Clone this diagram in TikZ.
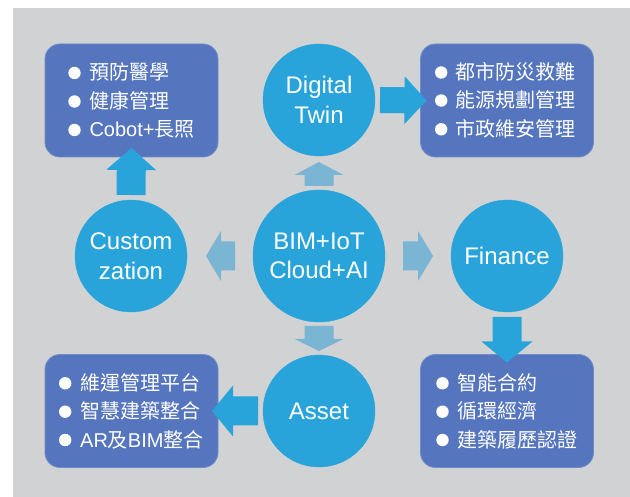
\documentclass[tikz,border=0pt]{standalone}
\usepackage{fontspec}
\setmainfont{Liberation Sans}
\newfontfamily\cjk{Noto Sans CJK TC}
\usetikzlibrary{calc}
\definecolor{bggray}{HTML}{D1D2D4}
\definecolor{circblue}{HTML}{29A4DB}
\definecolor{boxblue}{HTML}{5576BE}
\definecolor{boxedge}{HTML}{6F8CCB}
\definecolor{lightarrow}{HTML}{7AB5D3}
% block arrow: #1 style, #2 tail, #3 tip, #4 half shaft, #5 half head, #6 head length
\newcommand\blockarrow[6]{%
  \path #2 coordinate (baA) #3 coordinate (baB);
  \coordinate (baC) at ($(baB)!#6!(baA)$);
  \fill[#1] ($(baA)!#4!90:(baB)$) -- ($(baC)!#4!-90:(baA)$) -- ($(baC)!#5!-90:(baA)$)
    -- (baB) -- ($(baC)!#5!90:(baA)$) -- ($(baC)!#4!90:(baA)$) -- ($(baA)!#4!-90:(baB)$) -- cycle;}
% item line: #1 name, #2 box, #3 bullet dx, #4 text dx, #5 line centre dy, #6 text
\newcommand\itemline[6]{%
  \fill[bulletdot] ($(#2.west)+(#3,#5)$) circle (6.2pt);
  \node[itemtext] (#1) at ($(#2.west)+(#4,#5+7)$) {#6};}
\begin{document}
\begin{tikzpicture}[x=1pt,y=-1pt,
  hub/.style={circle, fill=circblue, draw=circblue, text=white, minimum size=#1,
    inner sep=0pt, outer sep=0pt, align=center, font=\fontsize{24}{29.5}\selectfont},
  infobox/.style={rounded corners=15pt, fill=boxblue, draw=boxedge, line width=0.8pt,
    minimum width=173pt, minimum height=113pt, inner sep=0pt, outer sep=0pt},
  itemtext/.style={anchor=base west, text=white, inner sep=0pt, font=\fontsize{20}{24}\selectfont},
  bulletdot/.style={fill=white},
  darkarrow/.style={fill=circblue},
  lightarr/.style={fill=lightarrow}]
\useasboundingbox (0,0) rectangle (630,497);
\fill[white] (0,0) rectangle (630,497);
\fill[bggray] (13,8) rectangle (630,497);

% boxes
\node[infobox] (tl) at (131.5,100.5) {};
\node[infobox] (tr) at (507,100.5) {};
\node[infobox] (bl) at (131.5,411) {};
\node[infobox] (br) at (507,411) {};

% circles
\node[hub=132pt] (core) at (319,256) {BIM+IoT\\Cloud+AI};
\node[hub=112pt] (dt) at (319,100) {Digital\\Twin};
\node[hub=112pt] (cust) at (131,256) {Custom\\zation};
\node[hub=112pt] (fin) at (507,256) {Finance};
\node[hub=112pt] (asset) at (319,411) {Asset};

% box texts
\itemline{tl1}{tl}{29.5}{44.3}{-27.5}{{\cjk 預防醫學}}
\itemline{tl2}{tl}{29.5}{44.3}{1}{{\cjk 健康管理}}
\itemline{tl3}{tl}{29.5}{44.3}{29.5}{Cobot+{\cjk 長照}}

\itemline{tr1}{tr}{20.7}{34.7}{-28}{{\cjk 都市防災救難}}
\itemline{tr2}{tr}{20.7}{34.7}{0}{{\cjk 能源規劃管理}}
\itemline{tr3}{tr}{20.7}{34.7}{28.8}{{\cjk 市政維安管理}}

\itemline{bl1}{bl}{20.2}{35}{-27.7}{{\cjk 維運管理平台}}
\itemline{bl2}{bl}{20.2}{35}{0.7}{{\cjk 智慧建築整合}}
\itemline{bl3}{bl}{20.2}{35}{29}{AR{\cjk 及}BIM{\cjk 整合}}

\itemline{br1}{br}{22}{36.3}{-27.7}{{\cjk 智能合約}}
\itemline{br2}{br}{22}{36.3}{0.7}{{\cjk 循環經濟}}
\itemline{br3}{br}{22}{36.3}{29}{{\cjk 建築履歷認證}}

% dark arrows
\blockarrow{darkarrow}{([yshift=5pt]cust.north)}{([yshift=9pt]tl.south)}{14.5pt}{25pt}{22pt}
\blockarrow{darkarrow}{([xshift=5pt]dt.east)}{([xshift=6pt]tr.west)}{13pt}{24pt}{22pt}
\blockarrow{darkarrow}{([yshift=-5pt]fin.south)}{([yshift=-8pt]br.north)}{14.5pt}{25.5pt}{21pt}
\blockarrow{darkarrow}{([xshift=-5pt]asset.west)}{([xshift=-6pt]bl.east)}{14.5pt}{25.5pt}{21pt}

% light arrows
\blockarrow{lightarr}{([yshift=4pt]core.north)}{([yshift=-6pt]dt.south)}{14.5pt}{24.5pt}{13pt}
\blockarrow{lightarr}{([yshift=-4pt]core.south)}{([yshift=4pt]asset.north)}{14.5pt}{24.5pt}{12pt}
\blockarrow{lightarr}{([xshift=-18pt]core.west)}{([xshift=19pt]cust.east)}{14.5pt}{25pt}{15pt}
\blockarrow{lightarr}{([xshift=18pt]core.east)}{([xshift=-18pt]fin.west)}{14.5pt}{25pt}{15pt}
\end{tikzpicture}
\end{document}
